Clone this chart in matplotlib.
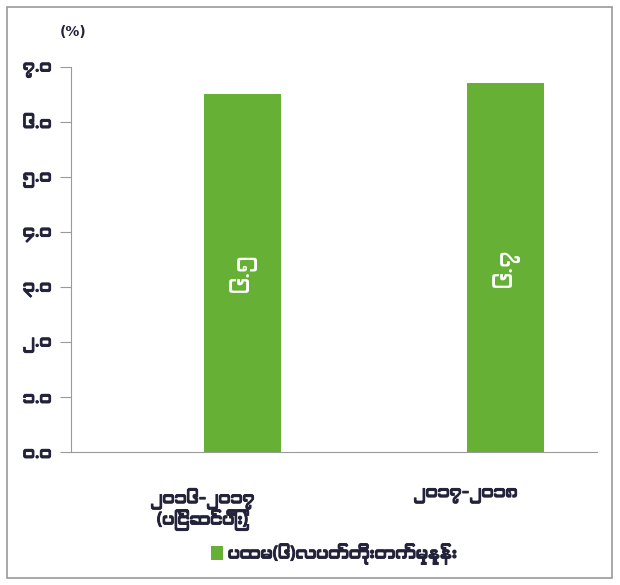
import numpy as np
import matplotlib
matplotlib.use("Agg")
import matplotlib.pyplot as plt
import matplotlib.patheffects as pe
from matplotlib import font_manager
from matplotlib.ft2font import FT2Font
from matplotlib.patches import Rectangle

# datos del grafico
categorias = ["၂၀၁၆-၂၀၁၇\n(ပြင်ဆင်ပြီး)", "၂၀၁၇-၂၀၁၈"]
valores = [6.5, 6.7]
etiquetas_valor = ["၆.၅", "၆.၇"]
ticks_y = [0, 1, 2, 3, 4, 5, 6, 7]
etiquetas_y = ["၀.၀", "၁.၀", "၂.၀", "၃.၀", "၄.၀", "၅.၀", "၆.၀", "၇.၀"]
leyenda = "ပထမ(၆)လပတ်တိုးတက်မှုနှုန်း"


def buscar_fuente_myanmar():
    """Busca una fuente instalada que tenga letras birmanas,
       prefiriendo las que no son monoespaciadas."""
    candidatas = []
    for f in font_manager.fontManager.ttflist:
        try:
            cmap = FT2Font(f.fname).get_charmap()
        except Exception:
            continue
        if 0x1041 in cmap and 0x1015 in cmap:
            nombre = f.name
            prioridad = 2
            if "Myanmar" in nombre or "Padauk" in nombre:
                prioridad = 0
            elif "Mono" not in nombre:
                prioridad = 1
            candidatas.append((prioridad, nombre))
    if not candidatas:
        return None
    candidatas.sort()
    return candidatas[0][1]


fuente = buscar_fuente_myanmar()
familias = [fuente, "DejaVu Sans"] if fuente else ["DejaVu Sans"]
plt.rcParams["font.family"] = familias

verde = "#66b035"
texto = "#22223a"
negrita = [pe.withStroke(linewidth=0.7, foreground=texto)]

fig = plt.figure(figsize=(6.2, 5.85), dpi=100)
ax = fig.add_axes([0.1145, 0.2274, 0.8485, 0.6581])

x = np.arange(len(categorias))
barras = ax.bar(x + 0.152, valores, width=0.29, color=verde, label=leyenda)

for b, t in zip(barras, etiquetas_valor):
    ax.text(b.get_x() + b.get_width() / 2, b.get_height() / 2, t,
            rotation=90, ha="center", va="center", color="white", fontsize=16)

ax.set_xlim(-0.5, 1.5)
ax.set_ylim(0, 7)
ax.set_yticks(ticks_y)
ax.set_yticklabels(etiquetas_y, fontsize=12, color=texto)
ax.set_xticks(x)
ax.set_xticklabels(categorias, fontsize=12, color=texto, linespacing=1.0)
for lbl in ax.get_yticklabels() + ax.get_xticklabels():
    lbl.set_path_effects(negrita)
ax.tick_params(axis="x", length=0, pad=26)
ax.tick_params(axis="y", length=8, color="#9a9a9a", pad=6)

for s in ["top", "right"]:
    ax.spines[s].set_visible(False)
ax.spines["left"].set_color("#9a9a9a")
ax.spines["bottom"].set_color("#9a9a9a")

fig.text(0.097, 0.945, "(%)", fontsize=10, fontweight="bold", color=texto,
         family="DejaVu Sans", ha="left", va="center")

leg = ax.legend(loc="center", bbox_to_anchor=(0.5, -0.265), frameon=False,
                fontsize=12, handlelength=0.7, handleheight=0.9, handletextpad=0.3,
                labelcolor=texto)
for t in leg.get_texts():
    t.set_path_effects(negrita)

# marco exterior
fig.patches.append(Rectangle((0.011, 0.012), 0.976, 0.976, transform=fig.transFigure,
                             fill=False, edgecolor="#9a9a9a", linewidth=1.2))

fig.savefig("out.png", dpi=100)
